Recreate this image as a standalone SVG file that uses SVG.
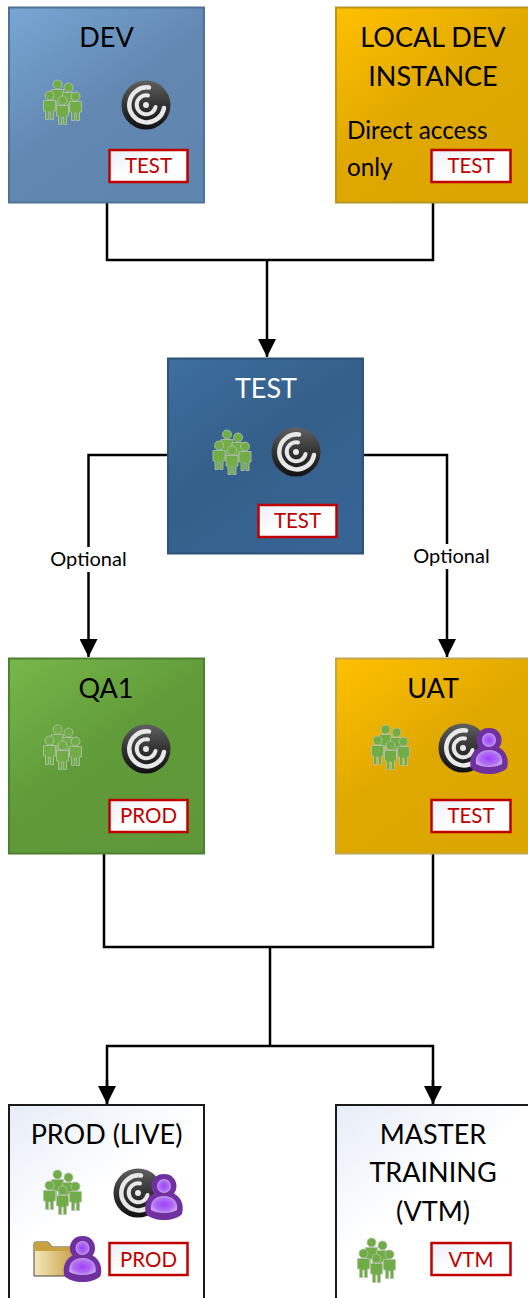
<svg xmlns="http://www.w3.org/2000/svg" xmlns:xlink="http://www.w3.org/1999/xlink" width="528" height="1298" viewBox="0 0 528 1298">
<style>
text{font-family:"Lato","Liberation Sans",sans-serif}
.t{font-size:27px;fill:#000;text-anchor:middle}
.b{font-size:20.500px;fill:#c00000;text-anchor:middle}
.s{font-size:24.300px;fill:#000}
.o{font-size:20px;fill:#000;text-anchor:middle}
.c{fill:none;stroke:#000;stroke-width:2.500}
.badge{stroke:#c00000;stroke-width:2.500;fill:url(#gW)}
.box{stroke-width:2}
</style>
<defs>
<linearGradient id="gB" x1="0" y1="0" x2="0.7" y2="1"><stop offset="0" stop-color="#78a6d4"/><stop offset="0.55" stop-color="#6288b2"/><stop offset="1" stop-color="#5f86ae"/></linearGradient>
<linearGradient id="gT" x1="0" y1="0" x2="0.7" y2="1"><stop offset="0" stop-color="#3e6f9f"/><stop offset="0.5" stop-color="#345f8a"/><stop offset="1" stop-color="#376493"/></linearGradient>
<linearGradient id="gG" x1="0" y1="0" x2="0.7" y2="1"><stop offset="0" stop-color="#77b74a"/><stop offset="0.55" stop-color="#609a39"/><stop offset="1" stop-color="#5f9838"/></linearGradient>
<linearGradient id="gY" x1="0" y1="0" x2="0.7" y2="1"><stop offset="0" stop-color="#ffc000"/><stop offset="0.55" stop-color="#dfa800"/><stop offset="1" stop-color="#dba600"/></linearGradient>
<linearGradient id="gL" x1="0" y1="0" x2="0.7" y2="1"><stop offset="0" stop-color="#e6ecf7"/><stop offset="0.5" stop-color="#fff"/><stop offset="1" stop-color="#fff"/></linearGradient>
<linearGradient id="gW" x1="0" y1="0" x2="1" y2="1"><stop offset="0" stop-color="#e9eef8"/><stop offset="0.5" stop-color="#fff"/><stop offset="1" stop-color="#fff"/></linearGradient>
<linearGradient id="gR" x1="0" y1="0" x2="0" y2="1"><stop offset="0" stop-color="#606060"/><stop offset="0.5" stop-color="#333"/><stop offset="1" stop-color="#111"/></linearGradient>
<linearGradient id="gF" x1="0" y1="0" x2="1" y2="0"><stop offset="0" stop-color="#f3e9b8"/><stop offset="1" stop-color="#c9a14a"/></linearGradient>
<radialGradient id="gP" cx="0.5" cy="0.5" r="0.6"><stop offset="0" stop-color="#a040ff"/><stop offset="0.6" stop-color="#b070f0"/><stop offset="1" stop-color="#d8c0f4"/></radialGradient>
<marker id="arrow" markerUnits="userSpaceOnUse" markerWidth="20" markerHeight="18" refX="18" refY="9" orient="auto"><path d="M0 0L18 9L0 18Z" fill="#000"/></marker>
<g id="person"><circle cx="0" cy="-7.500" r="4.500" fill="#70ad47" stroke="#b9c2b0" stroke-width="0.800"/><path d="M-6 -2.500H6V8H4V16.500H0.800V9H-0.800V16.500H-4V8H-6Z" fill="#70ad47" stroke="#b9c2b0" stroke-width="0.800"/></g>
<g id="people">
<use href="#person" x="-5" y="-10"/><use href="#person" x="6" y="-7"/>
<use href="#person" x="-13" y="1"/><use href="#person" x="13" y="2"/><use href="#person" x="0" y="6"/>
</g>
<g id="radar">
<circle r="24.500" fill="url(#gR)"/>
<path d="M3 -17.500A17.500 17.500 0 1 0 18 3" fill="none" stroke="#e8e8e8" stroke-width="4.500" stroke-linecap="round"/>
<path d="M2 -9.500A9.500 9.500 0 1 0 9.500 2" fill="none" stroke="#e8e8e8" stroke-width="4" stroke-linecap="round"/>
<circle r="3" fill="#e8e8e8"/>
</g>
<g id="user">
<path d="M-18 17C-21 6 -15 -1 -10 -3.500C-15 -9 -13 -23 0 -23C13 -23 15 -9 10 -3.500C15 -1 21 6 18 17C10 25 -10 25 -18 17Z" fill="#7030a0"/>
<circle cx="0" cy="-11" r="7" fill="url(#gP)"/>
<path d="M-13 13C-14.500 4 -8 -1 0 -1C8 -1 14.500 4 13 13C6 17 -6 17 -13 13Z" fill="url(#gP)"/>
</g>
</defs>

<rect width="528" height="1298" fill="#fff"/>

<g id="connectors">
<path class="c" d="M107 202V260H433V202"/>
<path class="c" d="M267 260V357" marker-end="url(#arrow)"/>
<path class="c" d="M168 455H88.500V657" marker-end="url(#arrow)"/>
<path class="c" d="M363 455H447V657" marker-end="url(#arrow)"/>
<path class="c" d="M104 853V947H433V853"/>
<path class="c" d="M270 947V1046"/>
<path class="c" d="M107 1104V1046H433V1104"/>
<path class="c" d="M107 1080V1104" marker-end="url(#arrow)"/>
<path class="c" d="M433 1080V1104" marker-end="url(#arrow)"/>
<rect x="48" y="547" width="81" height="25" fill="#fff"/>
<text class="o" x="88.500" y="566">Optional</text>
<rect x="411" y="544" width="81" height="25" fill="#fff"/>
<text class="o" x="451.500" y="563">Optional</text>
</g>

<g id="dev">
<rect class="box" x="9" y="7.500" width="195" height="195" fill="url(#gB)" stroke="#4f7396"/>
<text class="t" x="106.500" y="47">DEV</text>
<use href="#people" x="62.500" y="102"/>
<use href="#radar" x="146" y="105"/>
<rect class="badge" x="109.500" y="150" width="78" height="32"/>
<text class="b" x="148.500" y="173">TEST</text>
</g>

<g id="local-dev-instance">
<rect class="box" x="336" y="7.500" width="195" height="195" fill="url(#gY)" stroke="#b8961e"/>
<text class="t" x="433" y="47">LOCAL DEV</text>
<text class="t" x="433" y="86">INSTANCE</text>
<text class="s" x="347" y="139">Direct access</text>
<text class="s" x="347" y="176">only</text>
<rect class="badge" x="431.500" y="150" width="79" height="32"/>
<text class="b" x="471" y="173">TEST</text>
</g>

<g id="test">
<rect class="box" x="168" y="358.500" width="195" height="195" fill="url(#gT)" stroke="#2f5377"/>
<text class="t" x="266" y="398" style="fill:#fff">TEST</text>
<use href="#people" x="232" y="452"/>
<use href="#radar" x="296" y="452"/>
<rect class="badge" x="258.500" y="505" width="78" height="32"/>
<text class="b" x="297.500" y="528">TEST</text>
</g>

<g id="qa1">
<rect class="box" x="9" y="658.500" width="195" height="195" fill="url(#gG)" stroke="#4f8030"/>
<text class="t" x="106" y="698">QA1</text>
<use href="#people" x="62.500" y="747"/>
<use href="#radar" x="146" y="749"/>
<rect class="badge" x="109.500" y="800" width="78" height="32"/>
<text class="b" x="148.500" y="823">PROD</text>
</g>

<g id="uat">
<rect class="box" x="336" y="658.500" width="195" height="195" fill="url(#gY)" stroke="#c2a64a"/>
<text class="t" x="433" y="698">UAT</text>
<use href="#people" x="390.500" y="747"/>
<use href="#radar" x="463" y="748"/>
<use href="#user" x="489" y="751"/>
<rect class="badge" x="431.500" y="800" width="79" height="32"/>
<text class="b" x="471" y="823">TEST</text>
</g>

<g id="prod-live">
<rect class="box" x="9" y="1105" width="195" height="205" fill="url(#gL)" stroke="#1a1a1a"/>
<text class="t" x="106.500" y="1144">PROD (LIVE)</text>
<use href="#people" x="62.500" y="1192"/>
<use href="#radar" x="138" y="1193"/>
<use href="#user" x="164" y="1197"/>
<path d="M34 1276V1244Q34 1242 36 1242H48L52 1247H72Q74 1247 74 1249V1276Z" fill="url(#gF)" stroke="#444" stroke-width="1"/>
<path d="M34 1250V1244Q34 1242 36 1242H48L52 1247H72Q74 1247 74 1249V1251H36Z" fill="#c9a13e"/>
<use href="#user" x="82.500" y="1259"/>
<rect class="badge" x="109.500" y="1243" width="78" height="32"/>
<text class="b" x="148.500" y="1267">PROD</text>
</g>

<g id="master-training">
<rect class="box" x="336" y="1105" width="195" height="205" fill="url(#gL)" stroke="#1a1a1a"/>
<text class="t" x="433" y="1144">MASTER</text>
<text class="t" x="433" y="1182">TRAINING</text>
<text class="t" x="433" y="1221">(VTM)</text>
<use href="#people" x="376.500" y="1260"/>
<rect class="badge" x="431.500" y="1243" width="79" height="32"/>
<text class="b" x="471" y="1267">VTM</text>
</g>
</svg>
